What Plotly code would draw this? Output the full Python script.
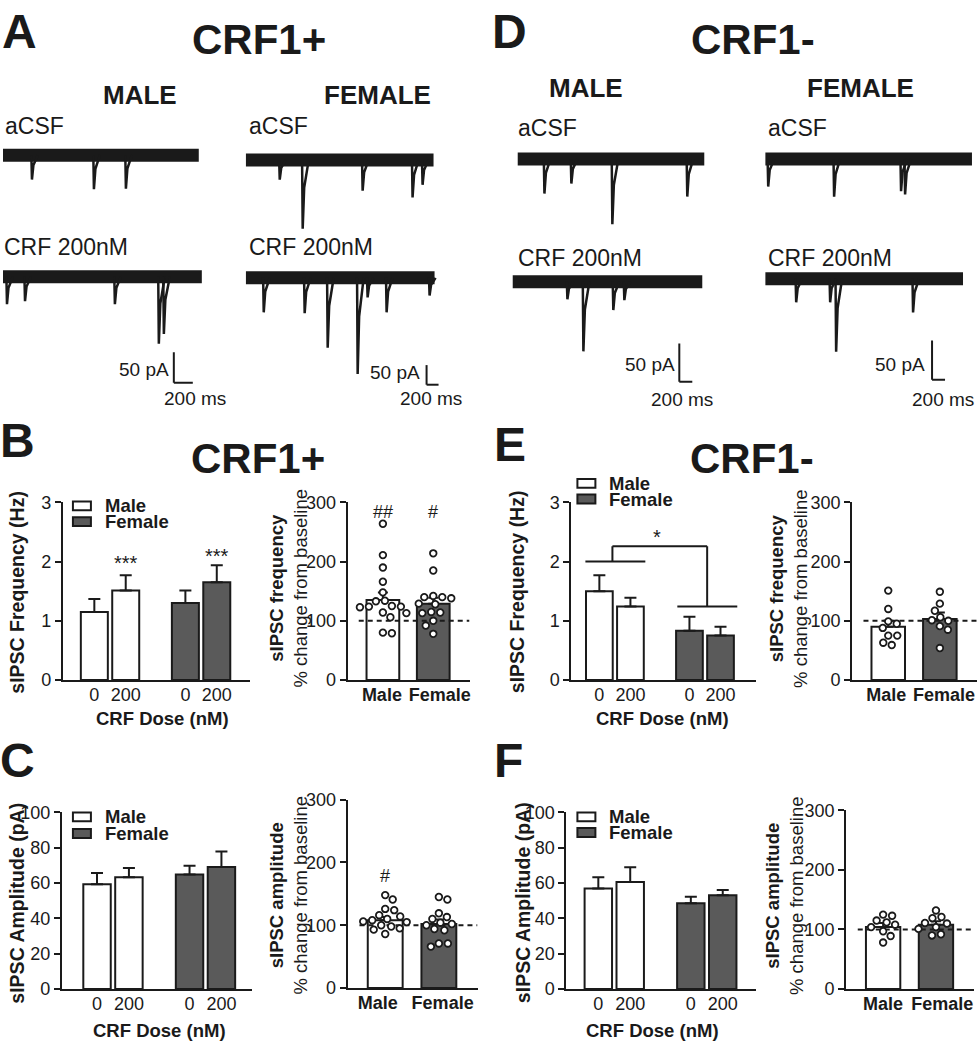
import plotly.graph_objects as go

W, H = 979, 1050
INK = '#1a1a1a'
GRAY = '#5a5a5a'
FONT = 'Liberation Sans'

# ------------------------------------------------------------------ data
# Example sIPSC traces: event times (ms) and amplitudes (pA), trace durations (ms)
A_M_ACSF_T = [305, 958, 1295]
A_M_ACSF_AMP = [40, 56, 55]
A_M_CRF_T = [42, 232, 1179, 1642, 1695]
A_M_CRF_AMP = [45, 40, 45, 110, 94]
A_F_ACSF_T = [567, 950, 1950, 2783, 2950]
A_F_ACSF_AMP = [50, 175, 78, 95, 63]
A_F_CRF_T = [300, 983, 1367, 1867, 2033, 2350, 3067]
A_F_CRF_AMP = [88, 90, 178, 245, 50, 88, 45]
D_M_ACSF_T = [415, 830, 1461, 2615]
D_M_ACSF_AMP = [45, 32, 85, 49]
D_M_CRF_T = [846, 1092, 1553, 1723]
D_M_CRF_AMP = [23, 91, 37, 24]
D_F_ACSF_T = [46, 1061, 2092, 2154]
D_F_ACSF_AMP = [35, 48, 41, 45]
D_F_CRF_T = [477, 1000, 1092, 2277]
D_F_CRF_AMP = [30, 30, 93, 43]
TRACE_DUR = {'A_M_ACSF': 2063, 'A_M_CRF': 2095, 'A_F_ACSF': 3133, 'A_F_CRF': 3150,
             'D_M_ACSF': 2877, 'D_M_CRF': 2923, 'D_F_ACSF': 3184, 'D_F_CRF': 3046}
SCALE_MS = 200
SCALE_PA = 50

DOSE_LABELS = ['0', '200']
SEX_LABELS = ['Male', 'Female']

# sIPSC frequency (Hz) / amplitude (pA), mean and SEM for doses 0, 200 nM
B_MALE_FREQ = [1.15, 1.51]
B_MALE_FREQ_SEM = [0.22, 0.26]
B_FEMALE_FREQ = [1.30, 1.65]
B_FEMALE_FREQ_SEM = [0.21, 0.29]
E_MALE_FREQ = [1.50, 1.24]
E_MALE_FREQ_SEM = [0.27, 0.15]
E_FEMALE_FREQ = [0.83, 0.75]
E_FEMALE_FREQ_SEM = [0.24, 0.15]
C_MALE_AMP = [59.3, 63.3]
C_MALE_AMP_SEM = [6.4, 5.2]
C_FEMALE_AMP = [64.8, 69.1]
C_FEMALE_AMP_SEM = [5.0, 8.7]
F_MALE_AMP = [56.9, 60.6]
F_MALE_AMP_SEM = [6.4, 8.3]
F_FEMALE_AMP = [48.5, 53.1]
F_FEMALE_AMP_SEM = [3.7, 3.0]

# % change from baseline: individual cells, mean and SEM (Male, Female)
B_PCT_MALE = [264, 211, 190, 166, 148, 134, 133, 125, 124, 124, 123, 114, 113, 106, 80, 79]
B_PCT_FEMALE = [214, 185, 142, 140, 140, 138, 129, 128, 115, 114, 113, 100, 92, 78]
B_PCT_MEAN = [135, 129]
B_PCT_SEM = [13, 10]
E_PCT_MALE = [151, 120, 99, 95, 88, 75, 75, 63, 59]
E_PCT_FEMALE = [149, 129, 117, 106, 101, 100, 91, 85, 54]
E_PCT_MEAN = [90, 103]
E_PCT_SEM = [10, 11]
C_PCT_MALE = [148, 141, 126, 124, 116, 114, 110, 108, 106, 105, 100, 98, 95, 93, 86]
C_PCT_FEMALE = [145, 141, 119, 113, 110, 104, 102, 100, 94, 92, 71, 71, 66]
C_PCT_MEAN = [108, 102]
C_PCT_SEM = [5, 7]
F_PCT_MALE = [125, 123, 115, 112, 108, 104, 97, 89, 78]
F_PCT_FEMALE = [132, 121, 119, 111, 110, 104, 101, 92, 90]
F_PCT_MEAN = [104, 108]
F_PCT_SEM = [7, 6]
BASELINE_PCT = 100

# ------------------------------------------------------------------ helpers
def PX(x):
    return x / W


def PY(y):
    return 1 - y / H


layout = dict(width=W, height=H, margin=dict(l=0, r=0, t=0, b=0),
              paper_bgcolor='white', plot_bgcolor='rgba(0,0,0,0)',
              showlegend=False, font=dict(family=FONT, color=INK),
              annotations=[], shapes=[])
traces = []
_n = [0]


def new_axes(xpx, ypx, xr, yr, xa=None, ya=None):
    _n[0] += 1
    n = _n[0]
    s = '' if n == 1 else str(n)
    xd = dict(domain=[PX(xpx[0]), PX(xpx[1])], range=xr, anchor='y' + s,
              showgrid=False, zeroline=False, fixedrange=True)
    yd = dict(domain=[PY(ypx[1]), PY(ypx[0])], range=yr, anchor='x' + s,
              showgrid=False, zeroline=False, fixedrange=True)
    if xa:
        xd.update(xa)
    else:
        xd['visible'] = False
    if ya:
        yd.update(ya)
    else:
        yd['visible'] = False
    layout['xaxis' + s] = xd
    layout['yaxis' + s] = yd
    return 'x' + s, 'y' + s


def text(x, y, t, size, bold=False, xanchor='center', angle=0):
    layout['annotations'].append(dict(
        x=PX(x), y=PY(y), xref='paper', yref='paper', text=t, showarrow=False,
        xanchor=xanchor, yanchor='middle', textangle=angle,
        font=dict(size=size, family=FONT, color=INK, weight='bold' if bold else 'normal')))


def trace_panel(x0, base, dur, ms_px, pa_px, times, amps, scalebar=None):
    wpx = min(300, W - 1 - x0)
    top, bot = 30, 150
    xa, ya = new_axes((x0, x0 + wpx), (base - top, base + bot),
                      [0, wpx * ms_px], [-bot * pa_px, top * pa_px])
    traces.append(go.Scatter(x=[0, dur], y=[0, 0], mode='lines',
                             line=dict(color=INK, width=13), xaxis=xa, yaxis=ya,
                             hoverinfo='skip'))
    sx, sy = [], []
    for t, a in zip(times, amps):
        sx += [t - 0.6 * ms_px, t, t + 1.5 * ms_px, t + 6 * ms_px, None]
        sy += [0, -a, -0.4 * a, 0, None]
    traces.append(go.Scatter(x=sx, y=sy, mode='lines',
                             line=dict(color=INK, width=2.5), xaxis=xa, yaxis=ya,
                             hoverinfo='skip'))
    if scalebar:
        cx, cy = scalebar
        t0 = (cx - x0) * ms_px
        v0 = -(cy - base) * pa_px
        for (xx0, yy0, xx1, yy1) in [(t0, v0, t0, v0 + SCALE_PA), (t0, v0, t0 + SCALE_MS, v0)]:
            layout['shapes'].append(dict(type='line', xref=xa, yref=ya, x0=xx0, y0=yy0,
                                         x1=xx1, y1=yy1, line=dict(color=INK, width=2)))


AXLINE = dict(visible=True, showline=True, linecolor=INK, linewidth=2)
POS_LEFT = [1.0, 2.0, 3.9, 4.9]
BAR_W_LEFT = 0.86
POS_RIGHT = [1, 2]
BAR_W_RIGHT = 0.65
XR_RIGHT = [0.3, 2.72]
XTICK = dict(ticks='', tickangle=0, ticklabelstandoff=-3)


def bar(xa, ya, x, y, sem, fill, w, capw):
    traces.append(go.Bar(
        x=x, y=y, width=w, xaxis=xa, yaxis=ya,
        marker=dict(color=fill, line=dict(color=INK, width=2)),
        error_y=dict(type='data', array=sem, arrayminus=[0] * len(sem), symmetric=False,
                     color=INK, thickness=2, width=capw)))


def left_panel(xpx, ypx, xr, ymax, ystep, male, msem, female, fsem):
    xa, ya = new_axes(
        xpx, ypx, xr, [0, ymax],
        xa=dict(AXLINE, **XTICK, tickvals=POS_LEFT, ticktext=DOSE_LABELS * 2,
                tickfont=dict(size=18, color=INK)),
        ya=dict(AXLINE, ticks='outside', ticklen=6, tickwidth=2, tickcolor=INK,
                tickvals=list(range(0, ymax + 1, ystep)), tickfont=dict(size=18, color=INK)))
    bar(xa, ya, POS_LEFT[:2], male, msem, 'white', BAR_W_LEFT, 6)
    bar(xa, ya, POS_LEFT[2:], female, fsem, GRAY, BAR_W_LEFT, 6)
    return xa, ya


def swarm(vals, ppy, ppx, d=8.6):
    placed, xs = [], []
    for i, v in enumerate(vals):
        y = v * ppy
        best = None
        for k in range(0, 300):
            for sgn in ((1, -1) if i % 2 else (-1, 1)):
                off = sgn * k * 0.5
                if all((off - px) ** 2 + (y - py) ** 2 >= d * d for px, py in placed):
                    best = off
                    break
            if best is not None:
                break
        placed.append((best, y))
        xs.append(best / ppx)
    return xs


def right_panel(xpx, ypx, label_pos, mean, sem, males, females):
    xa, ya = new_axes(
        xpx, ypx, XR_RIGHT, [0, 300],
        xa=dict(AXLINE, **XTICK, tickvals=label_pos, ticktext=SEX_LABELS,
                tickfont=dict(size=18, color=INK, weight='bold')),
        ya=dict(AXLINE, ticks='outside', ticklen=6, tickwidth=2, tickcolor=INK,
                tickvals=[0, 100, 200, 300], tickfont=dict(size=18, color=INK)))
    bar(xa, ya, POS_RIGHT[:1], mean[:1], sem[:1], 'white', BAR_W_RIGHT, 5)
    bar(xa, ya, POS_RIGHT[1:], mean[1:], sem[1:], GRAY, BAR_W_RIGHT, 5)
    traces.append(go.Scatter(x=[0.52, XR_RIGHT[1]], y=[BASELINE_PCT, BASELINE_PCT],
                             mode='lines', xaxis=xa, yaxis=ya,
                             line=dict(color=INK, width=2, dash='5px,4px')))
    ppy = (ypx[1] - ypx[0]) / 300.0
    ppx = (xpx[1] - xpx[0]) / (XR_RIGHT[1] - XR_RIGHT[0])
    for pos, vals in zip(POS_RIGHT, [males, females]):
        offs = swarm(vals, ppy, ppx)
        traces.append(go.Scatter(
            x=[pos + o for o in offs], y=vals, mode='markers', xaxis=xa, yaxis=ya,
            marker=dict(symbol='circle', size=6.6, color='white',
                        line=dict(color=INK, width=1.8))))
    return xa, ya


def legend_box(x, y, fill):
    layout['shapes'].append(dict(type='rect', xref='paper', yref='paper',
                                 x0=PX(x), x1=PX(x + 18), y0=PY(y + 9), y1=PY(y),
                                 fillcolor=fill, line=dict(color=INK, width=2)))


def sig(xa, ya, x, y, t, size=18):
    layout['annotations'].append(dict(x=x, y=y, xref=xa, yref=ya, text=t, showarrow=False,
                                      xanchor='center', yanchor='middle',
                                      font=dict(size=size, family=FONT, color=INK)))


# ------------------------------------------------------------------ panels A / D traces
trace_panel(3, 148, TRACE_DUR['A_M_ACSF'], 200 / 19, 50 / 31, A_M_ACSF_T, A_M_ACSF_AMP)
trace_panel(3, 272, TRACE_DUR['A_M_CRF'], 200 / 19, 50 / 31, A_M_CRF_T, A_M_CRF_AMP, (174, 380))
trace_panel(246, 153, TRACE_DUR['A_F_ACSF'], 200 / 12, 50 / 20, A_F_ACSF_T, A_F_ACSF_AMP)
trace_panel(246, 273, TRACE_DUR['A_F_CRF'], 200 / 12, 50 / 20, A_F_CRF_T, A_F_CRF_AMP, (427, 382))
trace_panel(518, 152, TRACE_DUR['D_M_ACSF'], 200 / 13, 50 / 39, D_M_ACSF_T, D_M_ACSF_AMP)
trace_panel(513, 277, TRACE_DUR['D_M_CRF'], 200 / 13, 50 / 39, D_M_CRF_T, D_M_CRF_AMP, (680, 379))
trace_panel(766, 152, TRACE_DUR['D_F_ACSF'], 200 / 13, 50 / 40, D_F_ACSF_T, D_F_ACSF_AMP)
trace_panel(766, 274, TRACE_DUR['D_F_CRF'], 200 / 13, 50 / 40, D_F_CRF_T, D_F_CRF_AMP, (933, 377))

for (x, y, t) in [(20, 22, 'A'), (510, 22, 'D'), (18, 439, 'B'), (511, 443, 'E'),
                  (18, 765, 'C'), (509, 765, 'F')]:
    text(x, y, t, 48, bold=True)
for (x, y, t) in [(259, 30, 'CRF1+'), (754, 30, 'CRF1-'), (258, 457, 'CRF1+'), (753, 457, 'CRF1-')]:
    text(x, y, t, 42, bold=True)
for (x, y, t) in [(140, 87, 'MALE'), (378, 87, 'FEMALE'), (587, 80, 'MALE'), (861, 80, 'FEMALE')]:
    text(x, y, t, 26, bold=True)
for (x, y) in [(3, 118), (247, 118), (517, 120), (767, 120)]:
    text(x, y, 'aCSF', 23, xanchor='left')
for (x, y) in [(2, 242), (247, 242), (517, 253), (767, 253)]:
    text(x, y, 'CRF 200nM', 23, xanchor='left')
for (x, y) in [(171, 366), (422, 370), (678, 361), (928, 361)]:
    text(x, y, '50 pA', 19, xanchor='right')
for (x, y) in [(162, 396), (398, 396), (650, 397), (911, 397)]:
    text(x, y, '200 ms', 19, xanchor='left')

# ------------------------------------------------------------------ B
bxa, bya = left_panel((63, 250), (502, 683), [0, 5.95], 3, 1,
                      B_MALE_FREQ, B_MALE_FREQ_SEM, B_FEMALE_FREQ, B_FEMALE_FREQ_SEM)
sig(bxa, bya, POS_LEFT[1], 1.97, '***', 20)
sig(bxa, bya, POS_LEFT[3], 2.10, '***', 20)
brxa, brya = right_panel((348, 470), (502, 683), [0.98, 2.13],
                         B_PCT_MEAN, B_PCT_SEM, B_PCT_MALE, B_PCT_FEMALE)
sig(brxa, brya, POS_RIGHT[0], 283, '##')
sig(brxa, brya, POS_RIGHT[1], 283, '#')

# ------------------------------------------------------------------ E
exa, eya = left_panel((572, 757), (502, 683), [0.1, 6.05], 3, 1,
                      E_MALE_FREQ, E_MALE_FREQ_SEM, E_FEMALE_FREQ, E_FEMALE_FREQ_SEM)
for (x0, y0, x1, y1) in [(0.55, 2.0, 2.48, 2.0), (3.51, 1.24, 5.44, 1.24),
                         (1.42, 2.0, 1.42, 2.26), (1.42, 2.26, 4.47, 2.26), (4.47, 2.26, 4.47, 1.24)]:
    layout['shapes'].append(dict(type='line', xref=exa, yref=eya, x0=x0, y0=y0, x1=x1, y1=y1,
                                 line=dict(color=INK, width=2)))
sig(exa, eya, 2.87, 2.42, '*', 20)
right_panel((853, 978), (502, 683), [0.96, 2.08],
            E_PCT_MEAN, E_PCT_SEM, E_PCT_MALE, E_PCT_FEMALE)

# ------------------------------------------------------------------ C
left_panel((62, 252), (818, 998), [-0.1, 5.85], 100, 20,
           C_MALE_AMP, C_MALE_AMP_SEM, C_FEMALE_AMP, C_FEMALE_AMP_SEM)
crxa, crya = right_panel((348, 478), (805, 997), [0.86, 2.07],
                         C_PCT_MEAN, C_PCT_SEM, C_PCT_MALE, C_PCT_FEMALE)
sig(crxa, crya, POS_RIGHT[0], 178, '#')

# ------------------------------------------------------------------ F
left_panel((567, 757), (818, 998), [0, 5.95], 100, 20,
           F_MALE_AMP, F_MALE_AMP_SEM, F_FEMALE_AMP, F_FEMALE_AMP_SEM)
right_panel((847, 975), (816, 998), [1.0, 2.12],
            F_PCT_MEAN, F_PCT_SEM, F_PCT_MALE, F_PCT_FEMALE)

# ------------------------------------------------------------------ axis titles & legends
for (x, y, t) in [(17, 593, 'sIPSC Frequency (Hz)'), (517, 593, 'sIPSC Frequency (Hz)'),
                  (17, 910, 'sIPSC Amplitude (pA)'), (523, 910, 'sIPSC Amplitude (pA)')]:
    text(x, y, t, 19.5, bold=True, angle=-90)
for (x, y) in [(163, 722), (663, 722), (160, 1040), (653, 1040)]:
    text(x, y, 'CRF Dose (nM)', 18.5, bold=True)
for (x, y, m) in [(289, 590, 'frequency'), (790, 590, 'frequency'),
                  (289, 903, 'amplitude'), (786, 903, 'amplitude')]:
    text(x, y, '<b>sIPSC %s</b><br>%% change from baseline' % m, 18.5, angle=-90)

for (lx, ym, yf) in [(73, 501, 517), (578, 478, 494), (73, 818, 835), (578, 818, 834)]:
    legend_box(lx, ym, 'white')
    legend_box(lx, yf, GRAY)
    text(lx + 30, ym + 4.5, SEX_LABELS[0], 18.5, bold=True, xanchor='left')
    text(lx + 30, yf + 4.5, SEX_LABELS[1], 18.5, bold=True, xanchor='left')

fig = go.Figure(data=traces, layout=layout)
fig.write_html('out.html', config={'displayModeBar': False, 'staticPlot': True},
               post_script="document.body.style.margin='0';document.body.style.overflow='hidden';")
